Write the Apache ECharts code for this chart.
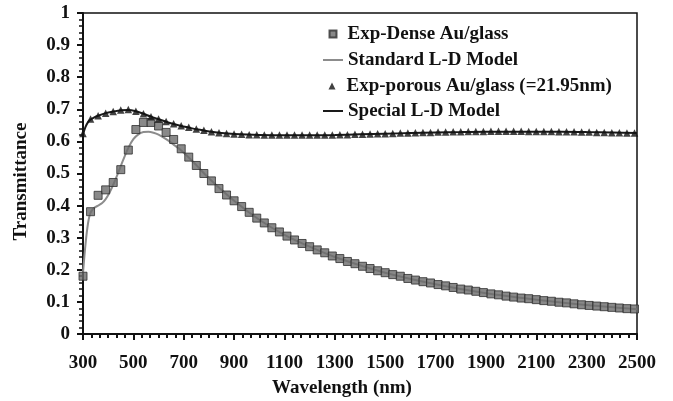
<!DOCTYPE html>
<html>
<head>
<meta charset="utf-8">
<script src="https://cdn.jsdelivr.net/npm/echarts@6/dist/echarts.min.js"></script>
<style>
  html, body { margin: 0; padding: 0; background: #fff; }
  #chart { width: 673px; height: 401px; }
</style>
</head>
<body>
<div id="chart"></div>
<script>
// Measured wavelengths (nm) shared by both experimental data sets
const expWavelength = [
  300, 330, 360, 390, 420, 450, 480, 510, 540, 570, 600, 630, 660, 690, 720, 750, 780, 810,
  840, 870, 900, 930, 960, 990, 1020, 1050, 1080, 1110, 1140, 1170, 1200, 1230, 1260, 1290,
  1320, 1350, 1380, 1410, 1440, 1470, 1500, 1530, 1560, 1590, 1620, 1650, 1680, 1710, 1740,
  1770, 1800, 1830, 1860, 1890, 1920, 1950, 1980, 2010, 2040, 2070, 2100, 2130, 2160, 2190,
  2220, 2250, 2280, 2310, 2340, 2370, 2400, 2430, 2460, 2490
];

// Exp-Dense Au/glass transmittance
const denseT = [
  0.180, 0.381, 0.432, 0.449, 0.472, 0.512, 0.573, 0.637, 0.659, 0.659, 0.648, 0.628, 0.606,
  0.577, 0.551, 0.525, 0.500, 0.477, 0.453, 0.433, 0.415, 0.397, 0.379, 0.361, 0.346, 0.331,
  0.318, 0.305, 0.293, 0.282, 0.272, 0.262, 0.253, 0.243, 0.235, 0.226, 0.219, 0.211, 0.204,
  0.197, 0.191, 0.185, 0.180, 0.173, 0.168, 0.163, 0.159, 0.154, 0.150, 0.145, 0.140, 0.137,
  0.133, 0.129, 0.125, 0.122, 0.118, 0.115, 0.112, 0.110, 0.107, 0.104, 0.102, 0.099, 0.097,
  0.094, 0.091, 0.089, 0.087, 0.085, 0.083, 0.081, 0.079, 0.078
];

// Exp-porous Au/glass transmittance
const porousT = [
  0.625, 0.670, 0.680, 0.688, 0.693, 0.698, 0.699, 0.694, 0.686, 0.677, 0.670, 0.662, 0.655,
  0.649, 0.644, 0.639, 0.635, 0.630, 0.627, 0.625, 0.623, 0.622, 0.621, 0.621, 0.620, 0.620,
  0.620, 0.620, 0.620, 0.620, 0.620, 0.620, 0.620, 0.620, 0.621, 0.621, 0.622, 0.622, 0.623,
  0.624, 0.624, 0.625, 0.626, 0.626, 0.627, 0.628, 0.628, 0.629, 0.629, 0.630, 0.630, 0.631,
  0.631, 0.631, 0.632, 0.632, 0.632, 0.632, 0.632, 0.631, 0.631, 0.631, 0.631, 0.630, 0.630,
  0.630, 0.629, 0.629, 0.628, 0.628, 0.627, 0.627, 0.626, 0.626
];

// Standard L-D model curve
const stdWavelength = [
  300, 310, 320, 330, 345, 360, 375, 390, 405, 420, 440, 460, 480, 500, 520, 540, 560, 580,
  600, 630, 660, 690, 720, 750, 800, 900, 1000, 1100, 1200, 1300, 1500, 1700, 1900, 2100,
  2300, 2500
];
const stdT = [
  0.190, 0.280, 0.345, 0.378, 0.393, 0.400, 0.407, 0.420, 0.440, 0.465, 0.503, 0.543, 0.580,
  0.607, 0.622, 0.629, 0.630, 0.627, 0.621, 0.607, 0.590, 0.572, 0.550, 0.526, 0.485, 0.415,
  0.356, 0.309, 0.272, 0.240, 0.191, 0.155, 0.127, 0.107, 0.090, 0.077
];

// Special L-D model curve
const specWavelength = [
  300, 310, 320, 330, 345, 360, 390, 420, 450, 480, 510, 540, 570, 600, 630, 660, 690, 720,
  750, 780, 810, 850, 900, 1000, 1100, 1200, 1300, 1400, 1500, 1600, 1700, 1800, 1900, 2000,
  2100, 2200, 2300, 2400, 2500
];
const specT = [
  0.622, 0.645, 0.660, 0.668, 0.675, 0.680, 0.688, 0.693, 0.697, 0.698, 0.694, 0.686, 0.677,
  0.669, 0.661, 0.654, 0.648, 0.643, 0.638, 0.634, 0.630, 0.626, 0.623, 0.620, 0.619, 0.619,
  0.620, 0.622, 0.624, 0.626, 0.628, 0.629, 0.630, 0.630, 0.630, 0.630, 0.629, 0.628, 0.626
];

const seriesNames = [
  'Exp-Dense Au/glass',
  'Standard L-D Model',
  'Exp-porous Au/glass (=21.95nm)',
  'Special L-D Model'
];

const pairs = (xs, ys) => xs.map((x, i) => [x, ys[i]]);

const FONT = '"Liberation Serif", "DejaVu Serif", serif';
const INK = '#111111';
const STD_GRAY = '#8c8c8c';
const axisText = { fontFamily: FONT, fontWeight: 'bold', fontSize: 19, color: INK };
const legendText = { fontFamily: FONT, fontWeight: 'bold', fontSize: 19, color: INK, lineHeight: 19 };

// One legend block per row so marker icons stay square and model icons stay flat lines
function markerLegend(name, icon, top) {
  return {
    orient: 'vertical', left: 328.5, top: top, padding: 0,
    itemWidth: 7, itemHeight: 7,
    textStyle: Object.assign({ padding: [0, 0, 0, 6] }, legendText),
    data: [{ name: name, icon: icon }]
  };
}
function lineLegend(name, top) {
  return {
    orient: 'vertical', left: 323, top: top, padding: 0,
    itemWidth: 20, itemHeight: 2,
    textStyle: legendText,
    data: [{ name: name, icon: 'rect' }]
  };
}

const chart = echarts.init(document.getElementById('chart'), null, { renderer: 'canvas' });

chart.setOption({
  backgroundColor: '#ffffff',
  animation: false,
  grid: {
    left: 83, right: 36, top: 13, bottom: 67,
    outerBoundsMode: 'none',
    containLabel: false,
    show: true, borderColor: INK, borderWidth: 1.5, backgroundColor: 'transparent'
  },
  legend: [
    markerLegend(seriesNames[0], 'rect', 24.5),
    lineLegend(seriesNames[1], 50.5),
    markerLegend(seriesNames[2], 'triangle', 76.5),
    lineLegend(seriesNames[3], 101.5)
  ],
  xAxis: {
    type: 'value',
    min: 300, max: 2500, interval: 200,
    name: 'Wavelength (nm)',
    nameLocation: 'middle',
    nameGap: 45,
    nameTextStyle: { fontFamily: FONT, fontWeight: 'bold', fontSize: 19, color: INK, padding: [0, 36, 0, 0] },
    axisLine: { onZero: false, lineStyle: { color: INK, width: 2 } },
    axisTick: { show: true, inside: false, length: 6, lineStyle: { color: INK, width: 2 } },
    minorTick: { show: true, splitNumber: 6, length: 4, lineStyle: { color: INK, width: 2 } },
    axisLabel: Object.assign({ margin: 20, formatter: v => String(v) }, axisText),
    splitLine: { show: false }
  },
  yAxis: {
    type: 'value',
    min: 0, max: 1, interval: 0.1,
    name: 'Transmittance',
    nameLocation: 'middle',
    nameGap: 52,
    nameTextStyle: { fontFamily: FONT, fontWeight: 'bold', fontSize: 19, color: INK, padding: [0, 16, 0, 0] },
    axisLine: { show: true, lineStyle: { color: INK, width: 2 } },
    axisTick: { show: true, inside: false, length: 6, lineStyle: { color: INK, width: 2 } },
    minorTick: { show: true, splitNumber: 5, length: 4, lineStyle: { color: INK, width: 1.5 } },
    axisLabel: Object.assign({ margin: 13, formatter: v => String(v) }, axisText),
    splitLine: { show: false }
  },
  series: [
    {
      name: seriesNames[1],
      type: 'line',
      data: pairs(stdWavelength, stdT),
      smooth: 0.3,
      showSymbol: false,
      symbol: 'none',
      z: 2,
      itemStyle: { color: STD_GRAY },
      lineStyle: { color: STD_GRAY, width: 2 }
    },
    {
      name: seriesNames[3],
      type: 'line',
      data: pairs(specWavelength, specT),
      smooth: 0.3,
      showSymbol: false,
      symbol: 'none',
      z: 2,
      itemStyle: { color: '#1a1a1a' },
      lineStyle: { color: '#1a1a1a', width: 2 }
    },
    {
      name: seriesNames[0],
      type: 'scatter',
      data: pairs(expWavelength, denseT),
      symbol: 'rect',
      symbolSize: 8,
      z: 3,
      itemStyle: { color: '#6b6b6b', borderColor: '#2e2e2e', borderWidth: 1 }
    },
    {
      name: seriesNames[2],
      type: 'scatter',
      data: pairs(expWavelength, porousT),
      symbol: 'triangle',
      symbolSize: 7.5,
      z: 4,
      itemStyle: { color: INK }
    }
  ]
});
</script>
</body>
</html>
